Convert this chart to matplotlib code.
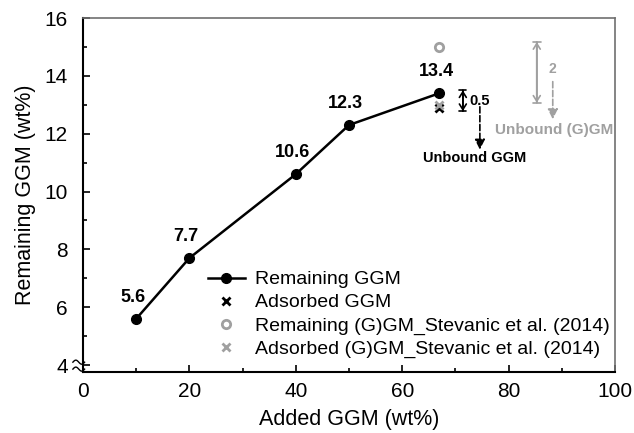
import matplotlib
matplotlib.use("Agg")
import matplotlib.pyplot as plt
import numpy as np

plt.rcParams['font.family'] = ['Liberation Sans', 'DejaVu Sans']

added = [10, 20, 40, 50, 67]
remaining = [5.6, 7.7, 10.6, 12.3, 13.4]
labels = ["5.6", "7.7", "10.6", "12.3", "13.4"]
ads_x = [67]
ads_y = [12.9]
stev_rem_x = [67]
stev_rem_y = [15.0]
stev_ads_x = [67]
stev_ads_y = [13.0]

GRAY = '#a0a0a0'

fig = plt.figure(figsize=(6.34, 4.33), dpi=100)
ax = fig.add_axes([83/634, 1-372/433, (615-83)/634, (372-18)/433])

ax.plot(added, remaining, '-o', color='black', lw=1.8, ms=7, label='Remaining GGM')
ax.plot(ads_x, ads_y, 'x', color='black', ms=6, mew=2, label='Adsorbed GGM')
ax.plot(stev_rem_x, stev_rem_y, 'o', mfc='none', mec=GRAY, mew=2, ms=6,
        label='Remaining (G)GM_Stevanic et al. (2014)')
ax.plot(stev_ads_x, stev_ads_y, 'x', color=GRAY, ms=6, mew=2,
        label='Adsorbed (G)GM_Stevanic et al. (2014)')

for x, y, t in zip(added, remaining, labels):
    ax.text(x - 0.6, y + 0.45, t, ha='center', va='bottom', fontsize=13, fontweight='bold')

def dbl(x, y0, y1, color, w):
    ax.annotate('', xy=(x, y0), xytext=(x, y1),
                arrowprops=dict(arrowstyle='|-|,widthA=%g,widthB=%g' % (w, w), color=color, lw=1.2,
                                shrinkA=0, shrinkB=0))
    ax.annotate('', xy=(x, y0), xytext=(x, y1),
                arrowprops=dict(arrowstyle='->,head_length=0.4,head_width=0.25', color=color, lw=1.2,
                                shrinkA=0, shrinkB=0))
    ax.annotate('', xy=(x, y1), xytext=(x, y0),
                arrowprops=dict(arrowstyle='->,head_length=0.4,head_width=0.25', color=color, lw=1.2,
                                shrinkA=0, shrinkB=0))

# black annotations
dbl(71.4, 12.78, 13.5, 'black', 0.25)
ax.text(72.7, 13.12, '0.5', fontsize=10.5, fontweight='bold', va='center')
ax.annotate('', xy=(74.6, 11.45), xytext=(74.6, 12.93),
            arrowprops=dict(arrowstyle='-|>,head_length=0.6,head_width=0.3', ls='--',
                            color='black', lw=1.2, shrinkA=0, shrinkB=0))
ax.text(73.7, 11.15, 'Unbound GGM', fontsize=10.5, fontweight='bold', ha='center', va='center')

# gray annotations
dbl(85.3, 13.07, 15.17, GRAY, 0.3)
ax.text(88.3, 14.25, '2', fontsize=10, fontweight='bold', color=GRAY, ha='center', va='center')
ax.annotate('', xy=(88.3, 12.5), xytext=(88.3, 13.8),
            arrowprops=dict(arrowstyle='-|>,head_length=0.6,head_width=0.3', ls='--',
                            color=GRAY, lw=1.2, shrinkA=0, shrinkB=0))
ax.text(88.5, 12.12, 'Unbound (G)GM', fontsize=11, fontweight='bold', color=GRAY,
        ha='center', va='center')

ax.set_xlim(0, 100)
ax.set_ylim(3.76, 16)
ax.set_xticks([0, 20, 40, 60, 80, 100])
ax.set_xticks([10, 30, 50, 70, 90], minor=True)
ax.set_yticks([4, 6, 8, 10, 12, 14, 16])
ax.set_yticks([5, 7, 9, 11, 13, 15], minor=True)
ax.tick_params(direction='in', which='major', length=5, width=1.2, labelsize=15)
ax.tick_params(axis='x', which='major', pad=7)
ax.tick_params(axis='y', which='major', pad=11)
ax.tick_params(direction='in', which='minor', length=3, width=1.2)
for s in ['left', 'bottom']:
    ax.spines[s].set_linewidth(1.5)
    ax.spines[s].set_color('black')
for s in ['top', 'right']:
    ax.spines[s].set_linewidth(1.2)
    ax.spines[s].set_color('#707070')

ax.set_xlabel('Added GGM (wt%)', fontsize=15.5, labelpad=6)
ax.set_ylabel('Remaining GGM (wt%)', fontsize=15.5, labelpad=6)

# axis break marks
for yy in [4.1, 3.86]:
    t = np.linspace(0, 1, 30)
    ax.plot(-1.9 + 2.2 * t, yy + 0.07 * np.sin(t * np.pi * 2), color='black', lw=1, clip_on=False)

leg = ax.legend(loc='upper left', bbox_to_anchor=(0.22, 0.308), frameon=False, fontsize=14,
                handlelength=1.9, handletextpad=0.55, labelspacing=0.28, borderaxespad=0.0)

fig.savefig('out.png', dpi=100)
